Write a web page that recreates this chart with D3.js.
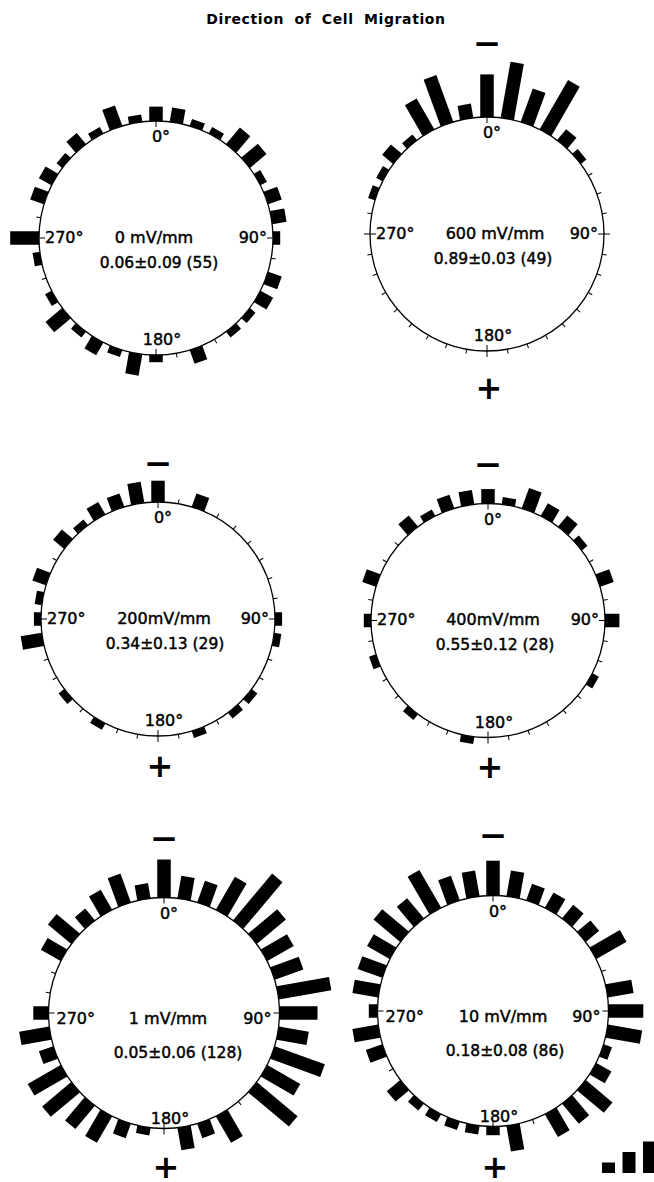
<!DOCTYPE html>
<html>
<head>
<meta charset="utf-8">
<script src="https://cdn.jsdelivr.net/npm/d3@7"></script>
<style>
  html, body { margin: 0; padding: 0; background: #fff; }
  svg { display: block; }
  text { font-family: "DejaVu Sans", sans-serif; fill: #000; }
  text.lbl { stroke: #000; stroke-width: 0.45px; }
</style>
</head>
<body>
<svg id="chart" width="654" height="1182"></svg>
<script>
// Bin centres (degrees, clockwise from the cathode direction at the top)
const binAngles = [0, 10, 20, 30, 40, 50, 60, 70, 80, 90, 100, 110, 120, 130, 140, 150, 160, 170,
                   180, 190, 200, 210, 220, 230, 240, 250, 260, 270, 280, 290, 300, 310, 320, 330, 340, 350];

// Number of cells migrating in each 10-degree bin
const counts0mV   = [2, 2, 1, 1, 3, 3, 1, 2, 2, 1, 0, 2, 2, 1, 1, 0, 2, 0,
                     1, 3, 1, 2, 1, 3, 1, 0, 1, 4, 0, 2, 2, 1, 2, 1, 3, 1];
const counts600mV = [6, 8, 5, 8, 2, 1, 0, 0, 0, 0, 0, 0, 0, 0, 0, 0, 0, 0,
                     0, 0, 0, 0, 0, 0, 0, 0, 0, 0, 0, 1, 1, 2, 1, 5, 7, 2];
const counts200mV = [3, 0, 2, 0, 0, 0, 0, 0, 0, 1, 1, 0, 0, 1, 1, 0, 1, 0,
                     0, 0, 0, 1, 0, 1, 0, 0, 3, 1, 1, 2, 0, 2, 1, 2, 2, 3];
const counts400mV = [2, 1, 3, 2, 2, 1, 0, 2, 0, 2, 0, 0, 1, 0, 0, 0, 0, 0,
                     0, 1, 0, 0, 1, 0, 0, 1, 0, 1, 0, 2, 0, 0, 2, 1, 2, 2];
const counts1mV   = [5, 3, 3, 5, 8, 5, 4, 4, 7, 5, 4, 7, 5, 7, 0, 4, 2, 3,
                     0, 1, 2, 4, 4, 5, 5, 2, 4, 2, 0, 0, 3, 4, 2, 3, 4, 2];
const counts10mV  = [4, 3, 2, 2, 2, 2, 4, 0, 3, 4, 4, 1, 2, 4, 3, 3, 0, 3,
                     1, 1, 1, 1, 1, 2, 0, 2, 3, 1, 3, 3, 3, 4, 3, 5, 3, 3];

const fieldLabels = ["0 mV/mm", "600 mV/mm", "200mV/mm", "400mV/mm", "1 mV/mm", "10 mV/mm"];
const statLabels  = ["0.06±0.09 (55)", "0.89±0.03 (49)", "0.34±0.13 (29)",
                     "0.55±0.12 (28)", "0.05±0.06 (128)", "0.18±0.08 (86)"];
const cardinalLabels = ["0°", "90°", "180°", "270°"];
const titleText = "Direction of Cell Migration";
const scaleKeyCounts = [1, 2, 3];

const seriesList = [counts0mV, counts600mV, counts200mV, counts400mV, counts1mV, counts10mV];

// Panel geometry
const panels = [
  { cx: 156, cy: 238,  r: 117,   unit: 7.2, row: "top",    signs: false, fdx: -2, sdx: 3 },
  { cx: 487, cy: 234,  r: 117,   unit: 7.1, row: "top",    signs: true,  fdx: 8,  sdx: 6,  minusDy: -190, plusDy: 155 },
  { cx: 158, cy: 619,  r: 117,   unit: 7.1, row: "top",    signs: true,  fdx: 6,  sdx: 7,  minusDy: -155, plusDy: 148 },
  { cx: 488, cy: 620.5,r: 117,   unit: 7.2, row: "top",    signs: true,  fdx: 5,  sdx: 7,  minusDy: -156, plusDy: 147 },
  { cx: 164, cy: 1013, r: 115.5, unit: 7.6, row: "bottom", signs: true,  fdx: 4,  sdx: 14, minusDy: -174, plusDy: 155 },
  { cx: 493, cy: 1011, r: 115.5, unit: 8.7, row: "bottom", signs: true,  fdx: 10, sdx: 12, minusDy: -175, plusDy: 157 }
];

const barWidth = 13.5;
const svg = d3.select("#chart");

// Title
svg.append("text")
  .attr("x", 326).attr("y", 23.5)
  .attr("text-anchor", "middle")
  .style("font-size", "14px")
  .style("font-weight", "bold")
  .style("letter-spacing", "0.6px")
  .style("word-spacing", "5px")
  .text(titleText);

panels.forEach((p, idx) => {
  const counts = seriesList[idx];
  const g = svg.append("g").attr("transform", `translate(${p.cx},${p.cy})`);
  const maxC = d3.max(counts);
  const radial = d3.scaleLinear().domain([0, maxC]).range([p.r, p.r + maxC * p.unit]);
  const angle = d3.scaleLinear().domain([0, 360]).range([0, 360]);

  // tick marks at every bin centre; cardinal ones cross the circle
  g.selectAll("line.tick").data(binAngles).join("line")
    .attr("class", "tick")
    .attr("transform", d => `rotate(${angle(d)})`)
    .attr("x1", 0).attr("x2", 0)
    .attr("y1", d => d % 90 === 0 ? -(p.r - 6) : -p.r)
    .attr("y2", d => d % 90 === 0 ? -(p.r + 6) : -(p.r + 4.5))
    .attr("stroke", "#000").attr("stroke-width", 1);

  g.append("circle")
    .attr("r", p.r)
    .attr("fill", "none")
    .attr("stroke", "#000")
    .attr("stroke-width", 1.3);

  // radial bars standing on the circle
  const bins = binAngles.map((a, i) => ({ a, c: counts[i] })).filter(d => d.c > 0);
  g.selectAll("rect.bar").data(bins).join("rect")
    .attr("class", "bar")
    .attr("transform", d => `rotate(${angle(d.a)})`)
    .attr("x", -barWidth / 2)
    .attr("width", barWidth)
    .attr("y", d => -radial(d.c))
    .attr("height", d => radial(d.c) - radial(0))
    .attr("fill", "#000");

  const fs = 16;
  const midDy = p.row === "top" ? 4.5 : 10.5;
  const statDy = p.row === "top" ? 29.5 : 44.5;
  const bottomInset = p.row === "top" ? 10 : 5;
  const sideInset = p.row === "top" ? 6 : 8;

  // cardinal direction labels
  g.append("text").attr("class", "lbl").attr("x", 5).attr("y", -p.r + 21)
    .attr("text-anchor", "middle").style("font-size", fs + "px").text(cardinalLabels[0]);
  g.append("text").attr("class", "lbl").attr("x", p.r - sideInset).attr("y", midDy)
    .attr("text-anchor", "end").style("font-size", fs + "px").text(cardinalLabels[1]);
  g.append("text").attr("class", "lbl").attr("x", 6).attr("y", p.r - bottomInset)
    .attr("text-anchor", "middle").style("font-size", fs + "px").text(cardinalLabels[2]);
  g.append("text").attr("class", "lbl").attr("x", -p.r + sideInset).attr("y", midDy)
    .attr("text-anchor", "start").style("font-size", fs + "px").text(cardinalLabels[3]);

  // field strength and mean ± s.e. (n)
  g.append("text").attr("class", "lbl").attr("x", p.fdx).attr("y", midDy)
    .attr("text-anchor", "middle").style("font-size", fs + "px").text(fieldLabels[idx]);
  g.append("text").attr("class", "lbl").attr("x", p.sdx).attr("y", statDy)
    .attr("text-anchor", "middle").style("font-size", "15.5px").text(statLabels[idx]);

  // electrode polarity
  if (p.signs) {
    g.append("text").attr("x", 0).attr("y", p.minusDy + 11)
      .attr("text-anchor", "middle")
      .style("font-size", "34px").style("font-weight", "bold")
      .text("\u2212");
    g.append("text").attr("x", 2).attr("y", p.plusDy + 10)
      .attr("text-anchor", "middle")
      .style("font-size", "32px").style("font-weight", "bold")
      .text("+");
  }
});

// count scale key (1, 2, 3 cells) at the lower right
const keyUnit = 10.5;
const keyX = d3.scaleBand().domain(scaleKeyCounts).range([602, 656]).paddingInner(0.366);
const keyY = d3.scaleLinear().domain([0, 3]).range([1173, 1173 - 3 * keyUnit]);
svg.selectAll("rect.key").data(scaleKeyCounts).join("rect")
  .attr("class", "key")
  .attr("x", d => keyX(d))
  .attr("width", keyX.bandwidth())
  .attr("y", d => keyY(d))
  .attr("height", d => keyY(0) - keyY(d))
  .attr("fill", "#000");
</script>
</body>
</html>
